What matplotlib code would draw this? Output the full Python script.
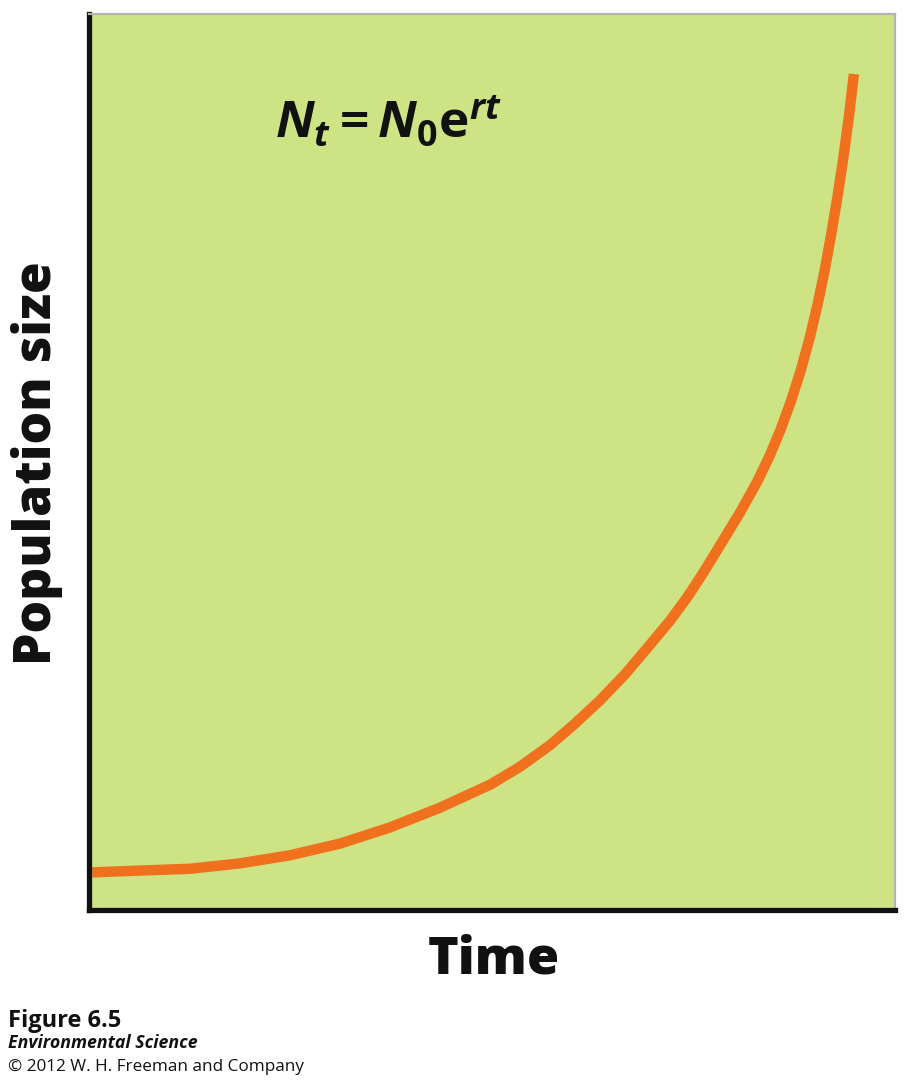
import matplotlib
matplotlib.use("Agg")
import matplotlib.pyplot as plt

# curve (time, population), arbitrary 0-100 units
time = [0.4, 6.3, 12.5, 18.7, 24.9, 31.1, 37.3, 43.5, 49.8, 53.5,
        57.2, 60.3, 63.4, 66.5, 69.6, 72.1, 74.3, 76.4, 78.7, 80.8,
        82.9, 84.4, 85.8, 87.1, 88.3, 89.4, 90.4, 91.3, 92.1, 92.9,
        93.6, 94.3, 94.9]
population = [4.2, 4.4, 4.6, 5.2, 6.1, 7.4, 9.2, 11.4, 14.0, 16.0,
              18.4, 20.8, 23.4, 26.3, 29.6, 32.3, 35.0, 37.9, 41.3, 44.4,
              47.8, 50.6, 53.6, 56.8, 60.2, 63.8, 67.6, 71.5, 75.5, 79.8,
              84.0, 88.7, 93.3]

xlabel = "Time"
ylabel = "Population size"
formula = r"$N_t = N_0\mathrm{e}^{rt}$"
footer = ["Figure 6.5", "Environmental Science", "\u00a9 2012 W. H. Freeman and Company"]

BG = "#cde384"
ORANGE = "#f0701e"

plt.rcParams["mathtext.fontset"] = "custom"
plt.rcParams["mathtext.it"] = "Open Sans:bold:italic"
plt.rcParams["mathtext.rm"] = "Open Sans:bold"
plt.rcParams["mathtext.bf"] = "Open Sans:bold"

fig = plt.figure(figsize=(9.11, 10.8), dpi=100)
ax = fig.add_axes([89/911, 1 - 910/1080, (895 - 89)/911, (910 - 14)/1080])
ax.set_facecolor(BG)
ax.plot(time, population, color=ORANGE, lw=7.5, solid_capstyle="butt",
        solid_joinstyle="round")
ax.set_xlim(0, 100)
ax.set_ylim(0, 100)
ax.set_xticks([])
ax.set_yticks([])

for s in ["left", "bottom"]:
    ax.spines[s].set_linewidth(3.8)
    ax.spines[s].set_color("#111111")
for s in ["top", "right"]:
    ax.spines[s].set_linewidth(1.6)
    ax.spines[s].set_color("#b4b4b4")

# axis titles
fig.text(37/911, 1 - 463/1080, ylabel, rotation=90, ha="center", va="center",
         fontsize=37, fontweight="black", family="Open Sans", color="#111111")
fig.text(494/911, 1 - 960/1080, xlabel, ha="center", va="center",
         fontsize=37.5, fontweight="black", family="Open Sans", color="#111111")

ax.text(275/911, 1 - 122/1080, formula, transform=fig.transFigure,
        ha="left", va="center", fontsize=37, color="#111111")

# credits
fig.text(8/911, 1 - 1027/1080, footer[0], ha="left", va="baseline",
         fontsize=17, fontweight="bold", family="Open Sans", color="#111111")
fig.text(8/911, 1 - 1048/1080, footer[1], ha="left", va="baseline",
         fontsize=12.8, fontweight="bold", style="italic", family="Open Sans",
         color="#111111")
fig.text(8/911, 1 - 1071/1080, footer[2], ha="left", va="baseline",
         fontsize=12.3, family="Open Sans", color="#111111")

fig.savefig("out.png", dpi=100, facecolor="white")
